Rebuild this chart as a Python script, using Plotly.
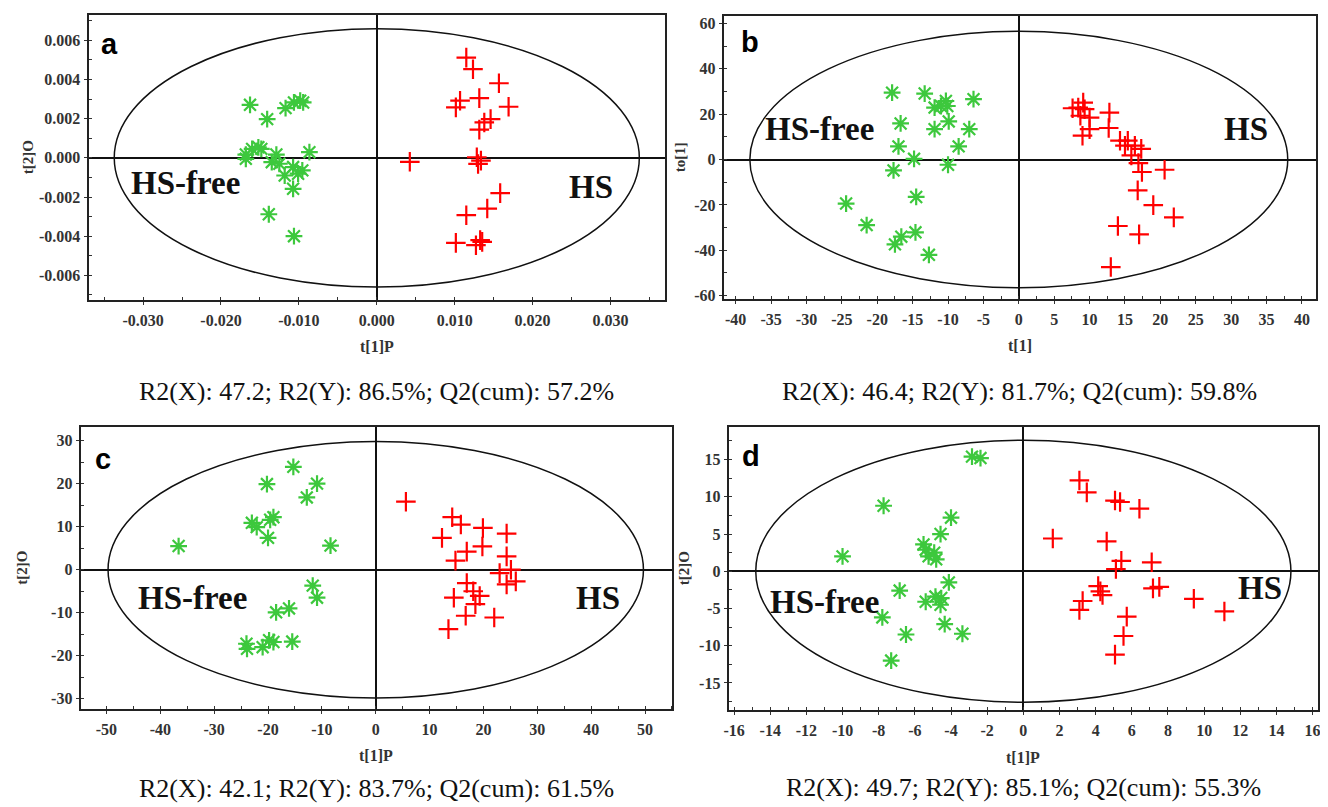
import plotly.graph_objects as go

# ---------------- data (scores) ----------------
# Panel a  (t[1]P vs t[2]O)
a_free_t1 = [-0.01627, -0.01407, -0.01171, -0.01063, -0.00983, -0.00945, -0.01681, -0.01600,
             -0.01520, -0.01482, -0.01681, -0.01289, -0.01348, -0.00865, -0.01182, -0.01074,
             -0.00956, -0.01074, -0.01386, -0.01063, -0.01010, -0.01251]
a_free_t2 = [0.00271, 0.00198, 0.00254, 0.00283, 0.00292, 0.00283, 0.00017, 0.00046,
             0.00054, 0.00046, -0.00005, 0.00017, -0.00022, 0.00029, -0.00090, -0.00047,
             -0.00064, -0.00158, -0.00288, -0.00400, -0.00081, -0.00030]
a_hs_t1 = [0.01149, 0.01235, 0.01568, 0.01069, 0.01316, 0.01015, 0.01692, 0.01461, 0.01380,
           0.01316, 0.00424, 0.01284, 0.01337, 0.01300, 0.01584, 0.01418, 0.01149, 0.01015,
           0.01273, 0.01327, 0.01353]
a_hs_t2 = [0.00512, 0.00453, 0.00381, 0.00292, 0.00305, 0.00258, 0.00261, 0.00198, 0.00181,
           0.00144, -0.00020, 0.00003, -0.00014, -0.00031, -0.00180, -0.00259, -0.00293,
           -0.00434, -0.00446, -0.00420, -0.00429]
a_ellipse = [0.0337, 0.0066]

# Panel b  (t[1] vs to[1])
b_free_t1 = [-17.9, -13.3, -11.9, -11.0, -10.3, -10.1, -6.4, -16.7, -11.9, -9.9, -7.0, -17.0,
             -8.5, -14.8, -10.0, -17.7, -14.5, -24.4, -21.5, -14.6, -16.6, -17.5, -12.7]
b_free_t2 = [29.5, 29.1, 22.9, 23.6, 25.8, 23.6, 26.6, 15.9, 13.4, 16.8, 13.4, 5.8,
             5.8, 0.3, -2.3, -4.8, -16.5, -19.4, -28.9, -32.1, -34.0, -37.4, -42.0]
b_hs_t1 = [7.6, 8.4, 9.1, 9.3, 8.7, 10.0, 12.8, 10.0, 9.0, 12.7, 14.3, 15.4, 15.0, 16.4,
           17.3, 15.9, 16.9, 17.4, 20.6, 16.8, 19.0, 21.9, 14.0, 17.0, 13.0]
b_hs_t2 = [22.6, 22.9, 25.1, 22.2, 19.3, 18.5, 20.7, 13.4, 10.5, 13.9, 8.3, 8.3, 6.1, 6.1,
           4.7, 1.8, -1.6, -5.5, -4.5, -13.6, -20.1, -25.5, -29.3, -33.0, -47.4]
b_ellipse = [38.0, 56.5]

# Panel c  (t[1]P vs t[2]O)
c_free_t1 = [-15.3, -20.2, -10.9, -12.8, -19.0, -19.6, -23.0, -22.1, -20.0, -36.6, -8.4,
             -11.7, -10.9, -16.1, -18.5, -15.5, -19.8, -19.0, -21.0, -24.0, -23.9]
c_free_t2 = [23.9, 19.9, 20.0, 16.8, 12.2, 11.6, 10.9, 9.9, 7.4, 5.5, 5.6,
             -3.7, -6.5, -9.0, -9.9, -16.7, -16.4, -16.8, -18.0, -17.2, -18.4]
c_hs_t1 = [5.6, 14.2, 15.8, 19.9, 24.3, 12.3, 16.9, 19.8, 14.8, 24.3, 25.1, 23.0, 26.0,
           24.3, 16.9, 18.1, 19.3, 14.5, 18.5, 16.7, 22.0, 13.5]
c_hs_t2 = [15.8, 12.2, 10.5, 9.7, 8.4, 7.4, 4.2, 5.4, 2.1, 3.1, 0.0, -0.8, -2.7,
           -3.4, -3.1, -5.0, -6.1, -6.5, -8.0, -10.7, -11.1, -13.8]
c_ellipse = [49.7, 29.8]

# Panel d  (t[1]P vs t[2]O)
d_free_t1 = [-2.84, -2.37, -7.73, -4.00, -4.58, -5.52, -5.40, -4.93, -5.24, -4.82, -10.0,
             -4.12, -6.84, -4.86, -4.54, -5.40, -4.58, -7.80, -4.35, -6.49, -3.37, -7.31]
d_free_t2 = [15.4, 15.2, 8.8, 7.2, 5.0, 3.6, 2.9, 2.5, 2.0, 1.6, 2.0,
             -1.5, -2.6, -3.4, -3.6, -4.1, -4.5, -6.2, -7.1, -8.5, -8.4, -12.0]
d_hs_t1 = [3.10, 3.51, 5.07, 5.35, 6.42, 1.63, 4.61, 5.42, 7.10, 5.12, 4.14, 4.26, 4.38,
           7.17, 7.52, 9.43, 3.28, 3.10, 11.12, 5.72, 5.54, 5.07]
d_hs_t2 = [12.2, 10.6, 9.5, 9.3, 8.4, 4.4, 4.0, 1.4, 1.2, 0.3, -2.0, -2.7, -3.2,
           -2.3, -2.1, -3.7, -4.0, -5.2, -5.4, -6.1, -8.7, -11.2]
d_ellipse = [14.8, 17.6]

# tick values / labels
a_xticks = [-0.030, -0.020, -0.010, 0.000, 0.010, 0.020, 0.030]
a_xlabels = ["-0.030", "-0.020", "-0.010", "0.000", "0.010", "0.020", "0.030"]
a_yticks = [-0.006, -0.004, -0.002, 0.000, 0.002, 0.004, 0.006]
a_ylabels = ["-0.006", "-0.004", "-0.002", "0.000", "0.002", "0.004", "0.006"]
b_xticks = list(range(-40, 41, 5))
b_xlabels = [str(v) for v in b_xticks]
b_yticks = [-60, -40, -20, 0, 20, 40, 60]
b_ylabels = [str(v) for v in b_yticks]
c_xticks = list(range(-50, 51, 10))
c_xlabels = [str(v) for v in c_xticks]
c_yticks = [-30, -20, -10, 0, 10, 20, 30]
c_ylabels = [str(v) for v in c_yticks]
d_xticks = list(range(-16, 17, 2))
d_xlabels = [str(v) for v in d_xticks]
d_yticks = [-15, -10, -5, 0, 5, 10, 15]
d_ylabels = [str(v) for v in d_yticks]

captions = ["R2(X): 47.2; R2(Y): 86.5%; Q2(cum): 57.2%",
            "R2(X): 46.4; R2(Y): 81.7%; Q2(cum): 59.8%",
            "R2(X): 42.1; R2(Y): 83.7%; Q2(cum): 61.5%",
            "R2(X): 49.7; R2(Y): 85.1%; Q2(cum): 55.3%"]

# ---------------- layout helpers ----------------
OFF = 8                      # default page margin of the html body
W, H = 1328 - OFF, 807 - OFF
GREEN = "#3DC83D"
RED = "#FF0000"
SERIF = "Liberation Serif"


def px(x):
    return (x - OFF) / W


def py(y):
    return 1 - (y - OFF) / H


panels = [
    dict(letter="a", free=(a_free_t1, a_free_t2), hs=(a_hs_t1, a_hs_t2), ell=a_ellipse,
         box=(84, 664, 14, 301), xr=[-0.037, 0.037], yr=[-0.00725, 0.0073],
         xt=(a_xticks, a_xlabels), yt=(a_yticks, a_ylabels), xminor=0.005, yminor=0.001,
         xtitle="t[1]P", ytitle="t[2]O", ytitle_x=23, xtitle_y=348, cap_y=393,
         free_lbl=(-0.0246, -0.0013), hs_lbl=(0.0275, -0.0015), letter_xy=(105, 43)),
    dict(letter="b", free=(b_free_t1, b_free_t2), hs=(b_hs_t1, b_hs_t2), ell=b_ellipse,
         box=(723, 1319, 15, 300), xr=[-41.7, 42.0], yr=[-61.4, 63.3],
         xt=(b_xticks, b_xlabels), yt=(b_yticks, b_ylabels), xminor=2.5, yminor=10,
         xtitle="t[1]", ytitle="to[1]", ytitle_x=679, xtitle_y=347, cap_y=393,
         free_lbl=(-28.2, 13.4), hs_lbl=(32.1, 13.4), letter_xy=(749, 41)),
    dict(letter="c", free=(c_free_t1, c_free_t2), hs=(c_hs_t1, c_hs_t2), ell=c_ellipse,
         box=(76, 671, 429, 713), xr=[-54.8, 55.0], yr=[-32.3, 33.2],
         xt=(c_xticks, c_xlabels), yt=(c_yticks, c_ylabels), xminor=5, yminor=5,
         xtitle="t[1]P", ytitle="t[2]O", ytitle_x=17, xtitle_y=760, cap_y=793,
         free_lbl=(-34.0, -6.5), hs_lbl=(41.3, -6.5), letter_xy=(99, 461)),
    dict(letter="d", free=(d_free_t1, d_free_t2), hs=(d_hs_t1, d_hs_t2), ell=d_ellipse,
         box=(728, 1321, 429, 714), xr=[-16.3, 16.3], yr=[-18.6, 19.4],
         xt=(d_xticks, d_xlabels), yt=(d_yticks, d_ylabels), xminor=1, yminor=2.5,
         xtitle="t[1]P", ytitle="t[2]O", ytitle_x=683, xtitle_y=762, cap_y=792,
         free_lbl=(-11.0, -4.1), hs_lbl=(13.1, -2.3), letter_xy=(751, 458)),
]

fig = go.Figure()
annotations = []
shapes = []
tick_font = dict(family=SERIF, size=16, color="#333333", weight="bold")
layout_axes = {}

for i, p in enumerate(panels, start=1):
    sfx = "" if i == 1 else str(i)
    xa, ya = "x" + sfx, "y" + sfx
    fig.add_trace(go.Scatter(
        x=p["free"][0], y=p["free"][1], mode="markers", xaxis=xa, yaxis=ya,
        marker=dict(symbol="asterisk-open", size=14, color=GREEN,
                    line=dict(color=GREEN, width=2.2)),
        showlegend=False, hoverinfo="skip"))
    fig.add_trace(go.Scatter(
        x=p["hs"][0], y=p["hs"][1], mode="markers", xaxis=xa, yaxis=ya,
        marker=dict(symbol="cross-thin-open", size=14, color=RED,
                    line=dict(color=RED, width=2.2)),
        showlegend=False, hoverinfo="skip"))

    x0, x1, y0, y1 = p["box"]
    axis_common = dict(showline=True, mirror=True, linecolor="#222222", linewidth=2,
                       showgrid=False, zeroline=True, zerolinecolor="#111111",
                       zerolinewidth=1.5, ticks="outside", ticklen=3, tickwidth=1,
                       tickcolor="#333333", tickfont=tick_font, fixedrange=True)
    layout_axes["xaxis" + sfx] = dict(
        axis_common, domain=[px(x0), px(x1)], range=p["xr"], anchor=ya,
        tickmode="array", tickvals=p["xt"][0], ticktext=p["xt"][1], ticklabelstandoff=2,
        minor=dict(dtick=p["xminor"], tick0=0, ticks="inside", ticklen=3,
                   tickcolor="#333333", showgrid=False))
    layout_axes["yaxis" + sfx] = dict(
        axis_common, domain=[py(y1), py(y0)], range=p["yr"], anchor=xa,
        tickmode="array", tickvals=p["yt"][0], ticktext=p["yt"][1],
        minor=dict(dtick=p["yminor"], tick0=0, ticks="inside", ticklen=3,
                   tickcolor="#333333", showgrid=False))

    rx, ry = p["ell"]
    shapes.append(dict(type="circle", xref=xa, yref=ya, x0=-rx, x1=rx, y0=-ry, y1=ry,
                       line=dict(color="#111111", width=1.5), layer="below"))

    big = dict(family=SERIF, size=33, color="#111111", weight="bold")
    annotations.append(dict(xref=xa, yref=ya, x=p["free_lbl"][0], y=p["free_lbl"][1],
                            text="HS-free", showarrow=False, font=big))
    annotations.append(dict(xref=xa, yref=ya, x=p["hs_lbl"][0], y=p["hs_lbl"][1],
                            text="HS", showarrow=False, font=big))
    lx, ly = p["letter_xy"]
    annotations.append(dict(xref="paper", yref="paper", x=px(lx), y=py(ly), text=p["letter"],
                            showarrow=False, xanchor="center", yanchor="middle",
                            font=dict(family="Liberation Sans", size=29, color="#000000",
                                      weight="bold")))
    annotations.append(dict(xref="paper", yref="paper", x=px((x0 + x1) / 2), y=py(p["xtitle_y"]),
                            text=p["xtitle"], showarrow=False, xanchor="center", yanchor="middle",
                            font=dict(family=SERIF, size=16, color="#333333", weight="bold")))
    annotations.append(dict(xref="paper", yref="paper", x=px(p["ytitle_x"]), y=py((y0 + y1) / 2),
                            text=p["ytitle"], showarrow=False, textangle=-90,
                            xanchor="center", yanchor="middle",
                            font=dict(family=SERIF, size=15, color="#333333", weight="bold")))
    annotations.append(dict(xref="paper", yref="paper", x=px((x0 + x1) / 2), y=py(p["cap_y"]),
                            text=captions[i - 1], showarrow=False, xanchor="center",
                            yanchor="middle",
                            font=dict(family=SERIF, size=26, color="#111111")))

fig.update_layout(width=W, height=H, margin=dict(l=0, r=0, t=0, b=0),
                  paper_bgcolor="white", plot_bgcolor="white",
                  shapes=shapes, annotations=annotations, showlegend=False,
                  **layout_axes)

fig.write_html("out.html", config={"displayModeBar": False})
